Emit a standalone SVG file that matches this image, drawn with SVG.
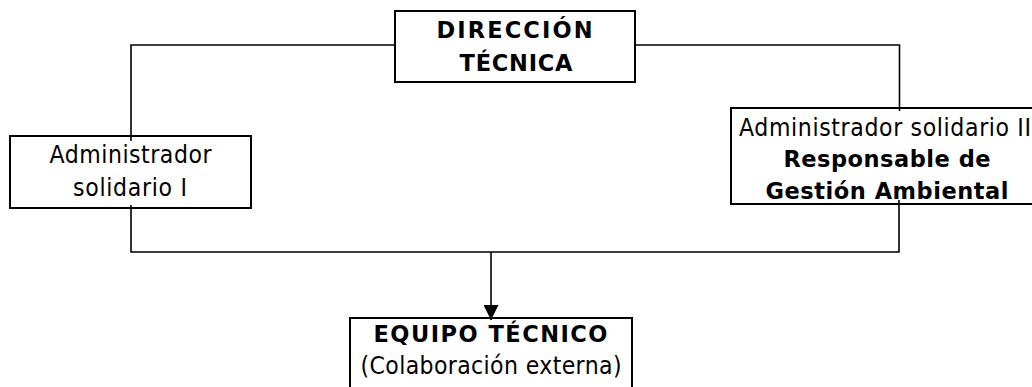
<svg xmlns="http://www.w3.org/2000/svg" width="1032" height="387" viewBox="0 0 1032 387">
<style>
  .box { fill: #ffffff; stroke: #000000; stroke-width: 2; }
  .conn { fill: none; stroke: #000000; stroke-width: 1.6; }
  text { font-family: "DejaVu Sans", "Liberation Sans", sans-serif; fill: #000000; text-anchor: middle; }
  .reg { font-family: "DejaVu Sans Condensed", "DejaVu Sans", sans-serif; font-size: 24.5px; font-weight: normal; }
  .bold { font-size: 22.5px; font-weight: bold; }
</style>
<defs>
  <marker id="arrow" viewBox="0 0 10 10" refX="10" refY="5" markerWidth="15" markerHeight="15" markerUnits="userSpaceOnUse" orient="auto">
    <path d="M0,0 L10,5 L0,10 Z" fill="#000000"/>
  </marker>
</defs>
<rect width="1032" height="387" fill="#ffffff"/>
<g id="direccion-tecnica">
  <rect class="box" x="395" y="11" width="240" height="71"/>
  <text class="bold" x="514.5" y="37.5" textLength="156" lengthAdjust="spacing">DIRECCIÓN</text>
  <text class="bold" x="516" y="70.5" textLength="113" lengthAdjust="spacing">TÉCNICA</text>
</g>
<g id="administrador-1">
  <rect class="box" x="10" y="136" width="241" height="72"/>
  <text class="reg" x="130.5" y="163" textLength="162" lengthAdjust="spacing">Administrador</text>
  <text class="reg" x="130" y="196" textLength="114" lengthAdjust="spacing">solidario I</text>
</g>
<g id="administrador-2">
  <rect class="box" x="731" y="108" width="320" height="96"/>
  <text class="reg" x="885" y="135.5" textLength="292" lengthAdjust="spacing">Administrador solidario II</text>
  <text class="bold" x="887" y="167" textLength="207" lengthAdjust="spacing">Responsable de</text>
  <text class="bold" x="887" y="199" textLength="243" lengthAdjust="spacing">Gestión Ambiental</text>
</g>
<g id="equipo-tecnico">
  <rect class="box" x="350" y="318" width="282" height="90"/>
  <text class="bold" x="490.5" y="341.5" textLength="234" lengthAdjust="spacing">EQUIPO TÉCNICO</text>
  <text class="reg" x="491" y="374" textLength="261" lengthAdjust="spacing">(Colaboración externa)</text>
</g>
<g id="connectors">
  <polyline class="conn" points="395,45 131,45 131,141"/>
  <polyline class="conn" points="635,45 899.5,45 899.5,111"/>
  <polyline class="conn" points="131,205 131,252 899,252 899,200"/>
  <line class="conn" x1="491" y1="252" x2="491" y2="320" marker-end="url(#arrow)"/>
</g>
</svg>
